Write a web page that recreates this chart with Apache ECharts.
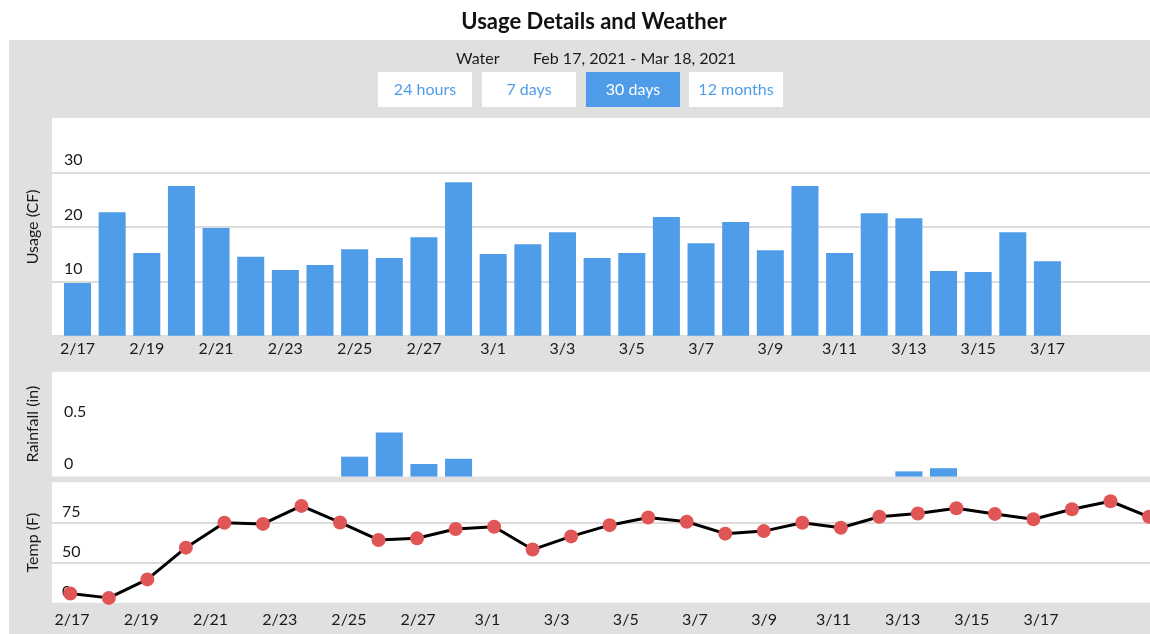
<!DOCTYPE html>
<html>
<head>
<meta charset="utf-8">
<script src="https://cdn.jsdelivr.net/npm/echarts@6/dist/echarts.min.js"></script>
<style>
html,body{margin:0;padding:0;background:#fff;}
#chart{width:1150px;height:634px;}
</style>
</head>
<body>
<div id="chart"></div>
<script>
// ---- data ----
const dates = ['2/17','2/18','2/19','2/20','2/21','2/22','2/23','2/24','2/25','2/26','2/27','2/28',
  '3/1','3/2','3/3','3/4','3/5','3/6','3/7','3/8','3/9','3/10','3/11','3/12','3/13','3/14','3/15','3/16','3/17','3/18'];
const usageCF = [9.7, 22.7, 15.2, 27.5, 19.8, 14.5, 12.1, 13.0, 15.9, 14.3, 18.1, 28.2, 15.0, 16.8, 19.0,
  14.3, 15.2, 21.8, 17.0, 20.9, 15.7, 27.5, 15.2, 22.5, 21.6, 11.9, 11.7, 19.0, 13.7];
const rainfallIn = [0, 0, 0, 0, 0, 0, 0, 0, 0.19, 0.42, 0.12, 0.17, 0, 0, 0,
  0, 0, 0, 0, 0, 0, 0, 0, 0, 0.05, 0.08, 0, 0, 0];
const tempF = [30.7, 28.0, 39.5, 59.3, 74.8, 74.1, 85.3, 75.0, 64.1, 65.1, 70.9, 72.3, 58.1, 66.3, 73.3,
  78.1, 75.4, 68.0, 69.6, 74.8, 71.7, 78.5, 80.6, 83.8, 80.3, 77.0, 83.2, 88.2, 78.5];
const tempTicks = [25, 50, 75];
const tempTickLabels = ['0', '50', '75'];
const rangeButtons = ['24 hours', '7 days', '30 days', '12 months'];
const activeButton = '30 days';
const titleText = 'Usage Details and Weather';
const utilityText = 'Water';
const periodText = 'Feb 17, 2021 - Mar 18, 2021';

// ---- styles ----
const FONT = 'Lato, "Open Sans", sans-serif';
const BLUE = '#4f9de9';
const GRAY = '#e0e0e0';
const GRIDLINE = '#dcdcdc';
const TXT = '#1a1a1a';

const chart = echarts.init(document.getElementById('chart'));

const pointDates = dates.slice(0, tempF.length);

function bgGrid(top, height) {
  return {left: 52, right: 0, top: top, height: height, show: true, backgroundColor: '#fff',
    borderWidth: 0, containLabel: false, outerBoundsMode: 'none'};
}
function plainGrid(left, width, top, height) {
  return {left: left, width: width, top: top, height: height, containLabel: false, outerBoundsMode: 'none'};
}
const hiddenValueX = (gi) => ({type: 'value', gridIndex: gi, show: false, min: 0, max: 1});
const hiddenY = (gi, min, max) => ({type: 'value', gridIndex: gi, show: false, min: min, max: max,
  splitLine: {show: false}});

const U_TOP = 118, U_H = 217.8;
const R_TOP = 371.7, R_H = 104.9;
const T_TOP = 482.3, T_H = 120.4;
const BAR_LEFT = 60.2, BAR_W = 1039.2;

const buttonGraphics = [];
const btnX = [378, 482, 586, 689];
const btnW = 94;
rangeButtons.forEach((b, i) => {
  const active = b === activeButton;
  buttonGraphics.push({
    type: 'rect', shape: {x: btnX[i], y: 72, width: btnW, height: 35},
    style: {fill: active ? BLUE : '#fff'}, z: 5
  });
  buttonGraphics.push({
    type: 'text', x: btnX[i] + btnW / 2, y: 89.5, z: 6,
    style: {text: b, fill: active ? '#fff' : BLUE, font: '16px ' + FONT, align: 'center', verticalAlign: 'middle'}
  });
});

const option = {
  animation: false,
  backgroundColor: '#fff',
  textStyle: {fontFamily: FONT},
  graphic: [
    {type: 'rect', shape: {x: 9, y: 40, width: 1141, height: 594}, style: {fill: GRAY}, z: -10},
    {type: 'text', x: 594, y: 22, z: 5,
      style: {text: titleText, fill: '#111', font: 'bold 22px ' + FONT, align: 'center', verticalAlign: 'middle'}},
    {type: 'text', x: 456, y: 59, z: 5,
      style: {text: utilityText, fill: TXT, font: '16px ' + FONT, align: 'left', verticalAlign: 'middle'}},
    {type: 'text', x: 533, y: 59, z: 5,
      style: {text: periodText, fill: TXT, font: '16px ' + FONT, align: 'left', verticalAlign: 'middle'}}
  ].concat(buttonGraphics),
  grid: [
    bgGrid(U_TOP, U_H),                         // 0 usage background + y axis
    plainGrid(BAR_LEFT, BAR_W, U_TOP, U_H),     // 1 usage bars
    bgGrid(R_TOP, R_H),                         // 2 rainfall background + y axis
    plainGrid(BAR_LEFT, BAR_W, R_TOP, R_H),     // 3 rainfall bars
    bgGrid(T_TOP, T_H),                         // 4 temp background + y axis
    plainGrid(54.7, 1038.3, T_TOP, T_H),        // 5 temp date labels
    plainGrid(70.3, 1078.7, T_TOP, T_H)         // 6 temp line
  ],
  xAxis: [
    hiddenValueX(0),
    {type: 'category', gridIndex: 1, data: dates, boundaryGap: true,
      axisLine: {show: false}, axisTick: {show: false}, splitLine: {show: false},
      axisLabel: {interval: 1, margin: 5, fontSize: 16, color: TXT, fontFamily: FONT}},
    hiddenValueX(2),
    {type: 'category', gridIndex: 3, data: dates, boundaryGap: true, show: false},
    hiddenValueX(4),
    {type: 'category', gridIndex: 5, data: dates, boundaryGap: true,
      axisLine: {show: false}, axisTick: {show: false}, splitLine: {show: false},
      axisLabel: {interval: 1, margin: 9, fontSize: 16, color: TXT, fontFamily: FONT}},
    {type: 'category', gridIndex: 6, data: pointDates, boundaryGap: false, show: false}
  ],
  yAxis: [
    {type: 'value', gridIndex: 0, min: 0, max: 40, interval: 10,
      name: 'Usage (CF)', nameLocation: 'middle', nameGap: 11, nameRotate: 90,
      nameTextStyle: {fontSize: 16, color: TXT, fontFamily: FONT},
      axisLine: {show: false}, axisTick: {show: false},
      splitLine: {show: true, lineStyle: {color: [GRIDLINE, GRIDLINE, GRIDLINE, GRIDLINE, 'rgba(0,0,0,0)'], width: 2}},
      axisLabel: {inside: true, margin: 12, fontSize: 16, color: TXT, fontFamily: FONT,
        verticalAlign: 'bottom', lineHeight: 25, showMinLabel: false, showMaxLabel: false}},
    hiddenY(1, 0, 40),
    {type: 'value', gridIndex: 2, min: 0, max: 1, interval: 0.5,
      name: 'Rainfall (in)', nameLocation: 'middle', nameGap: 11, nameRotate: 90,
      nameTextStyle: {fontSize: 16, color: TXT, fontFamily: FONT},
      axisLine: {show: false}, axisTick: {show: false}, splitLine: {show: false},
      axisLabel: {inside: true, margin: 12, fontSize: 16, color: TXT, fontFamily: FONT,
        verticalAlign: 'bottom', lineHeight: 25, showMinLabel: true, showMaxLabel: false}},
    hiddenY(3, 0, 1),
    {type: 'value', gridIndex: 4, min: 25, max: 100, interval: 25,
      name: 'Temp (F)', nameLocation: 'middle', nameGap: 11, nameRotate: 90,
      nameTextStyle: {fontSize: 16, color: TXT, fontFamily: FONT},
      axisLine: {show: false}, axisTick: {show: false},
      splitLine: {show: true, lineStyle: {color: ['rgba(0,0,0,0)', GRIDLINE, GRIDLINE, 'rgba(0,0,0,0)'], width: 2}},
      axisLabel: {inside: true, margin: 10, fontSize: 16, color: TXT, fontFamily: FONT,
        verticalAlign: 'bottom', lineHeight: 21, showMinLabel: true, showMaxLabel: false,
        formatter: function (v) { const k = tempTicks.indexOf(v); return k >= 0 ? tempTickLabels[k] : ''; }}},
    hiddenY(5, 0, 1),
    hiddenY(6, 25, 100)
  ],
  series: [
    {type: 'bar', name: 'Usage', xAxisIndex: 1, yAxisIndex: 1, data: usageCF,
      barCategoryGap: '22%', itemStyle: {color: BLUE}},
    {type: 'bar', name: 'Rainfall', xAxisIndex: 3, yAxisIndex: 3, data: rainfallIn,
      barCategoryGap: '22%', itemStyle: {color: BLUE}},
    {type: 'line', name: 'Temp', xAxisIndex: 6, yAxisIndex: 6, data: tempF,
      symbol: 'circle', symbolSize: 14, clip: false,
      lineStyle: {color: '#000', width: 3}, itemStyle: {color: '#e05656'}, z: 3}
  ]
};
chart.setOption(option);
</script>
</body>
</html>
